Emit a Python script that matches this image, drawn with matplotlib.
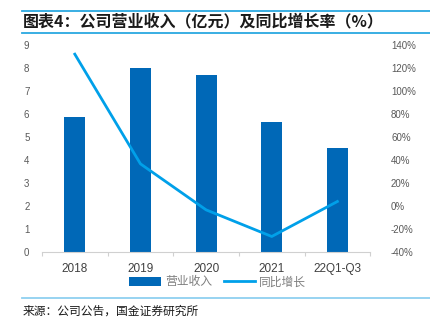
import matplotlib
matplotlib.use("Agg")
import matplotlib.pyplot as plt
from matplotlib.lines import Line2D
from matplotlib.patches import Patch

plt.rcParams['font.family'] = ['Liberation Sans', 'Noto Sans CJK SC', 'DejaVu Sans']

categories = ["2018", "2019", "2020", "2021", "22Q1-Q3"]
revenue = [5.84, 7.98, 7.70, 5.63, 4.52]          # 亿元
yoy_growth = [132.0, 36.4, -3.7, -26.9, 3.6]      # %
left_ticks = list(range(0, 10))
right_ticks = list(range(-40, 141, 20))

BAR_C = "#0068b7"
LINE_C = "#00a0e9"
RULE_C = "#2aa8e0"
TXT_C = "#595959"
CJK = ['Noto Sans CJK SC', 'DejaVu Sans']

fig = plt.figure(figsize=(4.31, 3.26), dpi=100)
ax = fig.add_axes([0.0974, 0.2285, 0.7616, 0.6335])
ax2 = ax.twinx()

x = list(range(len(categories)))
ax.bar(x, revenue, width=0.32, color=BAR_C, zorder=2)
ax2.plot(x, yoy_growth, color=LINE_C, lw=2.0, solid_joinstyle='round', zorder=3)

ax.set_xlim(-0.5, len(categories) - 0.5)
ax.set_ylim(0, 9)
ax2.set_ylim(-40, 140)
ax.set_yticks(left_ticks)
ax2.set_yticks(right_ticks)
ax2.set_yticklabels([f"{v}%" for v in right_ticks])

ax.set_xticks(x)
ax.set_xticklabels(categories)
ax.set_xticks([i + 0.5 for i in range(-1, len(categories))], minor=True)
ax.tick_params(axis='x', which='major', length=0, pad=8, labelsize=8.5, labelcolor="#404040")
ax.tick_params(axis='x', which='minor', length=3, width=0.8, color="#d0d0d0")
ax.tick_params(axis='y', length=0, pad=9, labelsize=7, labelcolor=TXT_C)
ax2.tick_params(axis='y', length=0, pad=15, labelsize=7, labelcolor=TXT_C)

for a in (ax, ax2):
    for s in ("top", "left", "right"):
        a.spines[s].set_visible(False)
    a.spines["bottom"].set_color("#d0d0d0")
    a.spines["bottom"].set_linewidth(0.8)
ax2.spines["bottom"].set_visible(False)

# title block
fig.add_artist(Line2D([0.051, 1.0], [0.966, 0.966], color=RULE_C, lw=1.3))
fig.add_artist(Line2D([0.051, 1.0], [0.899, 0.899], color=RULE_C, lw=1.3))
fig.text(0.053, 0.933, "图表4：公司营业收入（亿元）及同比增长率（%）",
         family=CJK, fontsize=11.5, fontweight='bold', color="#1a1a1a",
         va='center', ha='left')

# legend
handles = [Patch(facecolor=BAR_C, edgecolor='none'),
           Line2D([0], [0], color=LINE_C, lw=2.0)]
fig.legend(handles, ["营业收入", "同比增长"], loc='center',
           bbox_to_anchor=(0.505, 0.135), ncol=2, frameon=False,
           prop={'family': CJK, 'size': 8.5}, labelcolor="#7f7f7f",
           handlelength=2.7, handleheight=0.75, handletextpad=0.3,
           columnspacing=1.0)

# source note
fig.add_artist(Line2D([0.051, 1.0], [0.086, 0.086], color="#8fd0f0", lw=1.3))
fig.text(0.053, 0.046, "来源：公司公告，国金证券研究所", family=CJK,
         fontsize=8.5, color="#1a1a1a", va='center', ha='left')

fig.savefig("out.png", dpi=100)
